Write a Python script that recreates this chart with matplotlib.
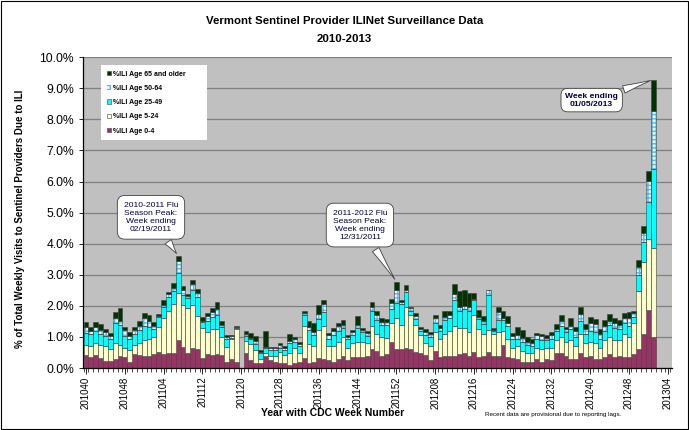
import matplotlib
matplotlib.use("Agg")
import matplotlib.pyplot as plt
from matplotlib.patches import Rectangle
from matplotlib.ticker import FuncFormatter, MultipleLocator

plt.rcParams['font.family'] = ['Liberation Sans', 'DejaVu Sans']

# CDC weeks 201040 .. 201304 (axis), data runs to 201301
seasons = [(2010, 40, 52), (2011, 1, 52), (2012, 1, 52), (2013, 1, 4)]
weeks = ['%d%02d' % (y, w) for y, a, b in seasons for w in range(a, b + 1)]

# %ILI by age group, stacked (percent of visits)
age_0_4 = [0.42, 0.37, 0.42, 0.31, 0.24, 0.24, 0.28, 0.39, 0.37, 0.20,
           0.45, 0.42, 0.40, 0.38, 0.45, 0.53, 0.45, 0.47, 0.47, 0.90,
           0.69, 0.47, 0.63, 0.60, 0.33, 0.45, 0.42, 0.45, 0.42, 0.19,
           0.28, 0.20, 0.00, 0.47, 0.26, 0.15, 0.15, 0.39, 0.26, 0.20,
           0.17, 0.17, 0.10, 0.15, 0.20, 0.34, 0.17, 0.20, 0.31, 0.30,
           0.25, 0.20, 0.30, 0.40, 0.25, 0.35, 0.35, 0.35, 0.40, 0.60,
           0.55, 0.40, 0.45, 0.85, 0.60, 0.60, 0.63, 0.60, 0.53, 0.50,
           0.42, 0.25, 0.55, 0.35, 0.40, 0.40, 0.40, 0.45, 0.50, 0.40,
           0.53, 0.35, 0.40, 0.53, 0.40, 0.40, 0.75, 0.35, 0.33, 0.30,
           0.20, 0.20, 0.20, 0.30, 0.20, 0.30, 0.25, 0.50, 0.50, 0.40,
           0.30, 0.30, 0.50, 0.35, 0.40, 0.30, 0.30, 0.35, 0.45, 0.35,
           0.40, 0.35, 0.35, 0.46, 0.60, 1.11, 1.86, 1.00]
age_5_24 = [0.32, 0.35, 0.40, 0.42, 0.46, 0.38, 0.54, 0.35, 0.27, 0.38,
            0.30, 0.38, 0.50, 0.55, 0.55, 0.80, 1.15, 1.38, 1.60, 1.53,
            1.34, 1.45, 1.40, 1.06, 0.95, 0.70, 0.85, 0.80, 0.57, 0.50,
            0.64, 1.07, 0.00, 0.41, 0.51, 0.43, 0.13, 0.08, 0.13, 0.20,
            0.35, 0.25, 0.39, 0.50, 0.30, 1.00, 0.60, 0.50, 0.92, 1.05,
            0.45, 0.50, 0.55, 0.60, 0.40, 0.45, 0.50, 0.50, 0.42, 0.75,
            0.55, 0.60, 0.52, 0.60, 1.00, 0.80, 1.35, 1.11, 0.86, 0.55,
            0.38, 0.45, 0.60, 0.60, 0.70, 0.80, 0.95, 0.85, 0.80, 0.75,
            1.18, 0.90, 0.70, 0.70, 0.70, 0.75, 0.45, 0.60, 0.30, 0.40,
            0.35, 0.30, 0.30, 0.35, 0.40, 0.35, 0.40, 0.40, 0.50, 0.45,
            0.60, 0.40, 0.60, 0.45, 0.45, 0.50, 0.35, 0.55, 0.55, 0.55,
            0.50, 0.75, 0.65, 1.00, 1.88, 2.29, 2.28, 2.87]
age_25_49 = [0.40, 0.38, 0.38, 0.38, 0.34, 0.30, 0.62, 0.65, 0.40, 0.34,
             0.35, 0.42, 0.45, 0.40, 0.25, 0.30, 0.35, 0.45, 0.42, 0.64,
             0.32, 0.33, 0.49, 0.64, 0.20, 0.35, 0.38, 0.47, 0.32, 0.24,
             0.06, 0.03, 0.00, 0.15, 0.15, 0.20, 0.20, 0.16, 0.20, 0.17,
             0.14, 0.15, 0.32, 0.20, 0.20, 0.36, 0.46, 0.38, 0.35, 0.45,
             0.25, 0.35, 0.35, 0.30, 0.27, 0.28, 0.45, 0.30, 0.22, 0.50,
             0.45, 0.40, 0.40, 0.45, 0.48, 0.65, 0.48, 0.14, 0.20, 0.15,
             0.27, 0.30, 0.30, 0.25, 0.45, 0.40, 0.85, 0.55, 0.60, 0.70,
             0.48, 0.33, 0.33, 1.12, 0.10, 0.40, 0.35, 0.40, 0.30, 0.25,
             0.30, 0.25, 0.20, 0.30, 0.30, 0.25, 0.30, 0.30, 0.35, 0.30,
             0.35, 0.30, 0.40, 0.30, 0.35, 0.35, 0.28, 0.30, 0.40, 0.40,
             0.35, 0.35, 0.35, 0.19, 0.52, 0.66, 1.21, 2.53]
age_50_64 = [0.17, 0.10, 0.13, 0.11, 0.11, 0.11, 0.16, 0.14, 0.17, 0.11,
             0.12, 0.14, 0.25, 0.20, 0.10, 0.04, 0.07, 0.08, 0.10, 0.36,
             0.16, 0.06, 0.18, 0.13, 0.05, 0.16, 0.16, 0.17, 0.08, 0.08,
             0.04, 0.02, 0.00, 0.07, 0.06, 0.08, 0.05, 0.06, 0.05, 0.07,
             0.07, 0.06, 0.07, 0.08, 0.08, 0.08, 0.10, 0.08, 0.15, 0.25,
             0.10, 0.13, 0.14, 0.10, 0.07, 0.07, 0.10, 0.07, 0.08, 0.12,
             0.15, 0.08, 0.10, 0.20, 0.44, 0.06, 0.06, 0.07, 0.07, 0.07,
             0.10, 0.10, 0.17, 0.08, 0.10, 0.10, 0.19, 0.12, 0.10, 0.10,
             0.02, 0.05, 0.10, 0.15, 0.04, 0.25, 0.05, 0.10, 0.10, 0.10,
             0.13, 0.10, 0.12, 0.12, 0.13, 0.08, 0.10, 0.07, 0.18, 0.10,
             0.10, 0.18, 0.25, 0.15, 0.25, 0.26, 0.16, 0.14, 0.12, 0.14,
             0.14, 0.15, 0.27, 0.12, 0.26, 0.29, 0.67, 1.86]
age_65_up = [0.16, 0.13, 0.15, 0.21, 0.10, 0.09, 0.20, 0.39, 0.12, 0.13,
             0.11, 0.16, 0.18, 0.17, 0.13, 0.06, 0.17, 0.08, 0.16, 0.18,
             0.14, 0.08, 0.14, 0.11, 0.12, 0.10, 0.11, 0.25, 0.14, 0.05,
             0.04, 0.03, 0.00, 0.10, 0.14, 0.17, 0.05, 0.51, 0.05, 0.05,
             0.07, 0.07, 0.22, 0.07, 0.07, 0.05, 0.17, 0.30, 0.30, 0.14,
             0.07, 0.10, 0.10, 0.15, 0.07, 0.08, 0.26, 0.08, 0.08, 0.14,
             0.13, 0.12, 0.10, 0.13, 0.26, 0.08, 0.16, 0.04, 0.10, 0.06,
             0.08, 0.07, 0.08, 0.09, 0.17, 0.15, 0.30, 0.50, 0.51, 0.48,
             0.20, 0.24, 0.15, 0.02, 0.04, 0.18, 0.25, 0.21, 0.11, 0.26,
             0.25, 0.14, 0.10, 0.07, 0.07, 0.08, 0.12, 0.15, 0.18, 0.08,
             0.25, 0.14, 0.20, 0.18, 0.20, 0.18, 0.18, 0.22, 0.23, 0.18,
             0.15, 0.17, 0.18, 0.07, 0.23, 0.23, 0.32, 1.02]

groups = [
    ('%ILI Age 0-4', age_0_4, '#993366', None),
    ('%ILI Age 5-24', age_5_24, '#FFFFCC', None),
    ('%ILI Age 25-49', age_25_49, '#00FFFF', None),
    ('%ILI Age 50-64', age_50_64, '#E6F8FF', '++++'),
    ('%ILI Age 65 and older', age_65_up, '#003300', None),
]

fig = plt.figure(figsize=(6.89, 4.30), dpi=100)
fig.patch.set_facecolor('white')
fig.patches.append(Rectangle((0.001, 0.002), 0.997, 0.996, transform=fig.transFigure,
                             fill=False, edgecolor='black', linewidth=0.8))
ax = fig.add_axes([0.1205, 0.144, 0.8545, 0.723])
ax.set_facecolor('#C0C0C0')

x = list(range(len(age_0_4)))
bottom = [0.0] * len(x)
handles = []
for label, vals, color, hatch in groups:
    if hatch:
        b = ax.bar(x, vals, width=1.0, bottom=bottom, color=color, hatch=hatch,
                   edgecolor='#55B8E8', linewidth=0.0, label=label, zorder=2)
        ax.bar(x, vals, width=1.0, bottom=bottom, fill=False,
               edgecolor='#404040', linewidth=0.4, zorder=3)
    else:
        b = ax.bar(x, vals, width=1.0, bottom=bottom, color=color,
                   edgecolor='#404040', linewidth=0.4, label=label, zorder=2)
    handles.append(b)
    bottom = [bt + v for bt, v in zip(bottom, vals)]

ax.set_ylim(0, 10)
ax.set_xlim(-0.62, len(weeks) - 0.18)
ax.yaxis.set_major_locator(MultipleLocator(1))
ax.yaxis.set_major_formatter(FuncFormatter(lambda v, p: '%.1f%%' % v))
ax.grid(axis='y', color='#808080', linewidth=0.9, zorder=0)
ax.set_axisbelow(True)

ax.set_xticks(range(0, len(weeks), 8))
ax.set_xticklabels(weeks[::8], rotation=90, fontsize=7)
ax.set_xticks([i + 0.5 for i in range(-1, len(weeks))], minor=True)
ax.tick_params(axis='x', which='major', length=4, width=0.6, pad=2)
ax.tick_params(axis='x', which='minor', length=3, width=0.5)
ax.tick_params(axis='y', labelsize=8.7, length=3, width=0.6)

for s in ['top', 'right']:
    ax.spines[s].set_visible(False)
for s in ['left', 'bottom']:
    ax.spines[s].set_color('black')
    ax.spines[s].set_linewidth(0.9)

fig.text(0.5, 0.952, 'Vermont Sentinel Provider ILINet Surveillance Data',
         ha='center', va='center', fontsize=8.2, fontweight='bold')
fig.text(0.5, 0.91, '2010-2013', ha='center', va='center', fontsize=8.2, fontweight='bold')
ax.set_ylabel('% of Total Weekly Visits to Sentinel Providers Due to ILI',
              fontsize=7, fontweight='bold')
ax.yaxis.set_label_coords(-0.098, 0.48)
ax.set_xlabel('Year with CDC Week Number', fontsize=7.5, fontweight='bold')
ax.xaxis.set_label_coords(0.424, -0.13)
fig.text(0.803, 0.037, 'Recent data are provisional due to reporting lags.',
         ha='center', va='center', fontsize=4.5)

leg = ax.legend(handles[::-1], [g[0] for g in groups[::-1]], loc='upper left',
                bbox_to_anchor=(0.031, 0.975), frameon=True, fancybox=False,
                handlelength=0.6, handleheight=0.6, labelspacing=1.05,
                borderpad=0.8, handletextpad=0.25, borderaxespad=0.0,
                prop={'weight': 'bold', 'size': 5})
leg.get_frame().set_facecolor('white')
leg.get_frame().set_edgecolor('white')
leg.get_frame().set_alpha(1)
leg.get_frame().set_linewidth(0)
# widen the white box a little to the right like the original
leg._legend_box.align = 'left'
for t in leg.get_texts():
    t.set_text(t.get_text() + '        ')

navy = '#000040'
callout = dict(boxstyle='round,pad=0.75,rounding_size=0.9', fc='white', ec='#404040', lw=0.6)
wedge = dict(arrowstyle='wedge,tail_width=0.9,shrink_factor=0.45', fc='white', ec='#404040', lw=0.6)
peak1 = weeks.index('201107')
peak2 = weeks.index('201152')
peak3 = weeks.index('201301')
ax.annotate('2010-2011 Flu\nSeason Peak:\nWeek ending\n02/19/2011',
            xy=(peak1, bottom[peak1]), xytext=(13.4, 4.85), ha='center', va='center',
            fontsize=6.1, color=navy, bbox=callout, arrowprops=wedge, zorder=5)
ax.annotate('2011-2012 Flu\nSeason Peak:\nWeek ending\n12/31/2011',
            xy=(peak2, bottom[peak2]), xytext=(56.5, 4.6), ha='center', va='center',
            fontsize=6.1, color=navy, bbox=callout, arrowprops=wedge, zorder=5)
ax.annotate('Week ending\n01/05/2013',
            xy=(peak3, bottom[peak3]), xytext=(104.3, 8.62), ha='center', va='center',
            fontsize=6.1, fontweight='bold', color=navy,
            bbox=dict(boxstyle='round,pad=0.5,rounding_size=0.8', fc='white', ec='#404040', lw=0.6),
            arrowprops=wedge, zorder=5)

fig.savefig('out.png', dpi=100)
